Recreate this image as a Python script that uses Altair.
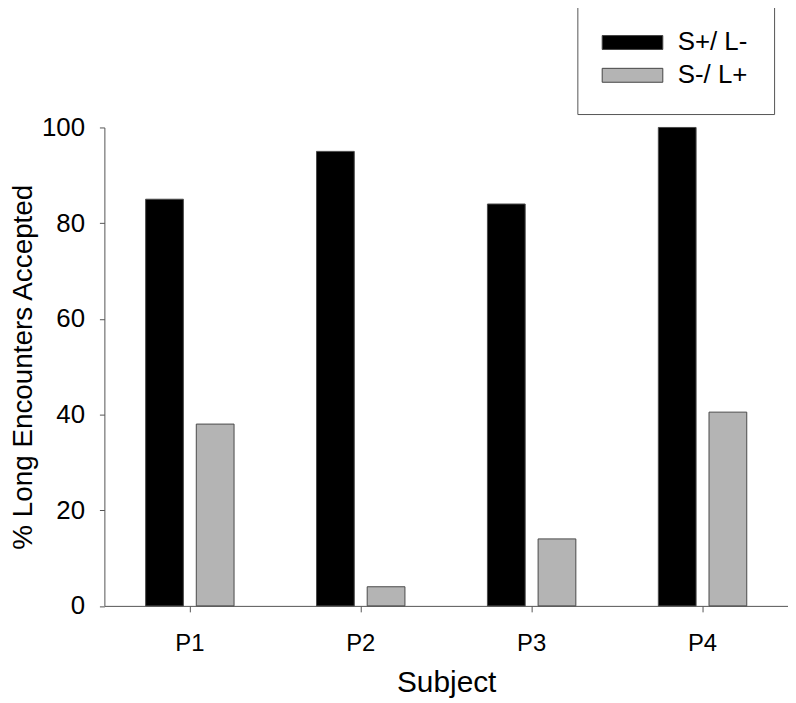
import altair as alt
import pandas as pd

subjects = ["P1", "P2", "P3", "P4"]
conditions = ["S+/ L-", "S-/ L+"]
s_plus_l_minus = [85, 95, 84, 100]
s_minus_l_plus = [38, 4, 14, 40.5]

rows = []
for i, s in enumerate(subjects):
    rows.append({"Subject": s, "Condition": conditions[0], "value": s_plus_l_minus[i]})
    rows.append({"Subject": s, "Condition": conditions[1], "value": s_minus_l_plus[i]})
df = pd.DataFrame(rows)

FONT = "Liberation Sans"
AXIS_COLOR = "#555555"

chart = alt.Chart(df).mark_bar(stroke="#4a4a4a", strokeWidth=1).encode(
    x=alt.X(
        "Subject:N", sort=subjects, title="Subject",
        scale=alt.Scale(paddingInner=0.4826, paddingOuter=0.2413),
        axis=alt.Axis(labelAngle=0, tickSize=6, labelFontSize=24, labelPadding=20,
                      titleFontSize=30, titlePadding=12, titleFontWeight="normal",
                      domainColor=AXIS_COLOR, tickColor=AXIS_COLOR, labelColor="black",
                      labelFont=FONT, titleFont=FONT, grid=False),
    ),
    xOffset=alt.XOffset("Condition:N", sort=conditions,
                        scale=alt.Scale(paddingInner=0.255, paddingOuter=0)),
    y=alt.Y(
        "value:Q", title="% Long Encounters Accepted",
        scale=alt.Scale(domain=[0, 100], nice=False),
        axis=alt.Axis(values=[0, 20, 40, 60, 80, 100], tickSize=5, labelFontSize=26,
                      labelPadding=15, titleFontSize=28, titlePadding=4,
                      titleFontWeight="normal", domainColor=AXIS_COLOR,
                      tickColor=AXIS_COLOR, labelColor="black",
                      labelFont=FONT, titleFont=FONT, grid=False),
    ),
    color=alt.Color(
        "Condition:N", sort=conditions,
        scale=alt.Scale(domain=conditions, range=["#000000", "#b4b4b4"]),
        legend=alt.Legend(
            title=None, orient="none", legendX=476, legendY=-124.5, direction="vertical",
            fillColor="white", strokeColor=AXIS_COLOR, padding=26,
            symbolType="M-2,-1L6.714,-1L6.714,1L-2,1Z", symbolSize=196,
            symbolStrokeColor="#444444", symbolStrokeWidth=1, symbolOpacity=1,
            labelFontSize=26, labelFont=FONT, labelColor="black", labelOffset=49,
            rowPadding=7,
        ),
    ),
).properties(
    width=688, height=481.5,
    autosize=alt.AutoSizeParams(type="none"),
    padding={"left": 97, "top": 118, "right": 0, "bottom": 95},
).configure_view(stroke=None)

chart.save("out.html", embed_options={"renderer": "svg", "actions": False})
